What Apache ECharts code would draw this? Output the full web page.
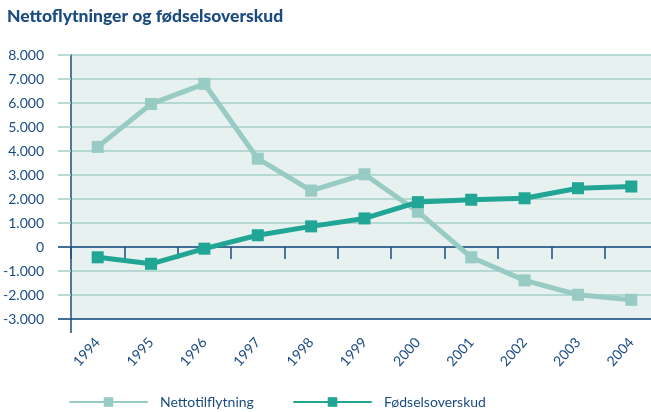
<!DOCTYPE html>
<html>
<head>
<meta charset="utf-8">
<script src="https://cdn.jsdelivr.net/npm/echarts@6/dist/echarts.min.js"></script>
<style>
  html, body { margin: 0; padding: 0; background: #fff; overflow: hidden; }
  /* plotområdet går lidt ud over højre kant i originalen */
  #chart { width: 660px; height: 412px; }
</style>
</head>
<body>
<div id="chart"></div>
<script>
// årstal og serier
var years = ['1994', '1995', '1996', '1997', '1998', '1999', '2000', '2001', '2002', '2003', '2004'];
var nettotilflytning = [4170, 5960, 6800, 3680, 2350, 3030, 1470, -430, -1390, -1990, -2200];
var foedselsoverskud = [-430, -700, -70, 490, 860, 1190, 1870, 1970, 2030, 2450, 2520];

var navy = '#1b4c80';
var lightTeal = '#97cbc3';
var darkTeal = '#21a594';
var gridLine = '#a3cfc8';

var chart = echarts.init(document.getElementById('chart'));

// tusindtalsseparator med punktum
function fmt(v) {
    var s = Math.abs(v).toString().replace(/\B(?=(\d{3})+(?!\d))/g, '.');
    return (v < 0 ? '-' : '') + s;
}

var legendText = { color: navy, fontFamily: 'Lato', fontSize: 14, padding: [0, 0, 0, 8] };

var option = {
    backgroundColor: '#fff',
    animation: false,
    title: {
        text: 'Nettoflytninger og fødselsoverskud',
        left: 2,
        top: 2,
        textStyle: { color: navy, fontFamily: 'Lato', fontWeight: 900, fontSize: 17.5 }
    },
    legend: [{
        data: ['Nettotilflytning'],
        left: 69,
        top: 395,
        padding: 0,
        itemWidth: 77,
        itemHeight: 12,
        textStyle: legendText
    }, {
        data: ['Fødselsoverskud'],
        left: 293,
        top: 395,
        padding: 0,
        itemWidth: 77,
        itemHeight: 12,
        textStyle: legendText
    }],
    grid: {
        left: 71,
        top: 55,
        width: 587,
        height: 264,
        show: true,
        backgroundColor: '#e7f1ef',
        borderWidth: 0
    },
    xAxis: [{
        // nederste akse med årstal
        type: 'category',
        data: years,
        boundaryGap: true,
        position: 'bottom',
        axisLine: { onZero: false, lineStyle: { color: navy, width: 1.5 } },
        axisTick: {
            show: true,
            length: 14,
            interval: function (i) { return i === 0; },
            lineStyle: { color: navy, width: 1.5 }
        },
        axisLabel: {
            rotate: 48,
            margin: 21,
            interval: 0,
            color: navy,
            fontFamily: 'Lato',
            fontSize: 14
        },
        splitLine: { show: false }
    }, {
        // nullinjen med streger
        type: 'category',
        data: years,
        boundaryGap: true,
        position: 'bottom',
        axisLine: { onZero: true, onZeroAxisIndex: 0, lineStyle: { color: navy, width: 1.5 } },
        axisTick: {
            show: true,
            inside: false,
            length: 12,
            interval: 0,
            lineStyle: { color: navy, width: 1.5 }
        },
        axisLabel: { show: false },
        splitLine: { show: false }
    }],
    yAxis: [{
        type: 'value',
        min: -3000,
        max: 8000,
        interval: 1000,
        axisLine: { show: true, lineStyle: { color: navy, width: 1.5 } },
        axisTick: { show: true, length: 13, lineStyle: { color: gridLine, width: 1.5 } },
        axisLabel: {
            margin: 27,
            color: navy,
            fontFamily: 'Lato',
            fontSize: 14,
            formatter: fmt
        },
        splitLine: { show: true, lineStyle: { color: gridLine, width: 1.5 } }
    }, {
        type: 'value',
        position: 'left',
        offset: 0,
        min: -3000,
        max: 8000,
        interval: 1000,
        axisLine: { show: false },
        axisTick: { show: true, length: 13, customValues: [-3000, 0], lineStyle: { color: navy, width: 1.5 } },
        axisLabel: { show: false },
        splitLine: { show: false }
    }],
    series: [{
        name: 'Nettotilflytning',
        type: 'line',
        data: nettotilflytning,
        symbol: 'rect',
        symbolSize: 12,
        color: lightTeal,
        lineStyle: { color: lightTeal, width: 5, cap: 'round', join: 'round' },
        itemStyle: { color: lightTeal }
    }, {
        name: 'Fødselsoverskud',
        type: 'line',
        data: foedselsoverskud,
        symbol: 'rect',
        symbolSize: 12,
        color: darkTeal,
        lineStyle: { color: darkTeal, width: 5, cap: 'round', join: 'round' },
        itemStyle: { color: darkTeal }
    }]
};

chart.setOption(option);
</script>
</body>
</html>
